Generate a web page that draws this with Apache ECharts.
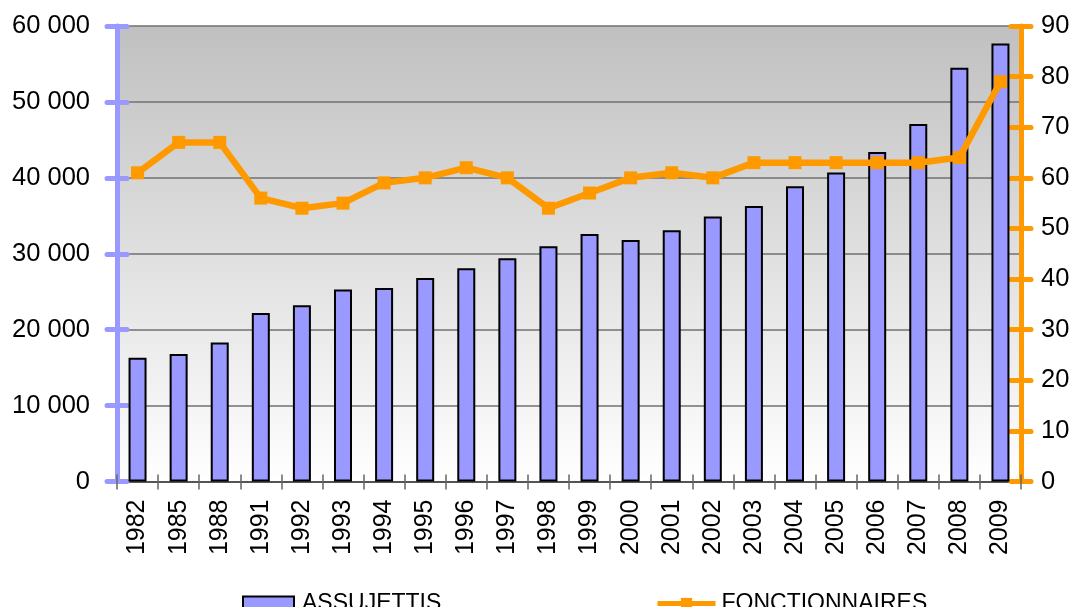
<!DOCTYPE html>
<html>
<head>
<meta charset="utf-8">
<script src="https://cdn.jsdelivr.net/npm/echarts@6/dist/echarts.min.js"></script>
<style>
html,body{margin:0;padding:0;background:#fff;}
#c{width:1074px;height:607px;}
</style>
</head>
<body>
<div id="c"></div>
<script>
var years = ['1982','1985','1988','1991','1992','1993','1994','1995','1996','1997','1998','1999','2000','2001','2002','2003','2004','2005','2006','2007','2008','2009'];
var assujettis = [16300,16800,18300,22200,23200,25300,25500,26800,28100,29400,31000,32600,31800,33100,34900,36300,38900,40700,43400,47100,54500,57700];
var fonctionnaires = [61,67,67,56,54,55,59,60,62,60,54,57,60,61,60,63,63,63,63,63,64,79];
var leftTicks = {min:0, max:60000, interval:10000};
var rightTicks = {min:0, max:90, interval:10};

var FONT = 'Liberation Sans, Arial, sans-serif';
var BLUE = '#9999ff', ORANGE = '#ff9900';

var chart = echarts.init(document.getElementById('c'));
function fmtThousands(v){ if(v===0) return '0'; return (v/1000) + ' 000'; }
var option = {
  animation:false,
  backgroundColor:'#ffffff',
  grid:{left:117, right:53, top:26, bottom:125.5, show:true, borderWidth:0,
    backgroundColor:new echarts.graphic.LinearGradient(0,0,0,1,[{offset:0,color:'#c0c0c0'},{offset:1,color:'#ffffff'}])},
  legend:[
    {data:['ASSUJETTIS'], left:242, top:592, itemWidth:51, itemHeight:14, icon:'rect', padding:0,
     textStyle:{fontFamily:FONT, fontSize:23, color:'#000', lineHeight:14, padding:[0,0,6,3]}},
    {data:['FONCTIONNAIRES'], left:655, top:592, itemWidth:58, itemHeight:14, padding:0,
     lineStyle:{width:5, color:ORANGE},
     textStyle:{fontFamily:FONT, fontSize:23, color:'#000', lineHeight:14, padding:[0,0,6,1]}}
  ],
  xAxis:[
    {type:'category', data:years, boundaryGap:true,
     axisLine:{show:true, lineStyle:{color:'#555', width:2}},
     axisTick:{show:true, length:8, interval:0, lineStyle:{color:'#666', width:1.5}},
     axisLabel:{rotate:90, interval:0, margin:18, fontFamily:FONT, fontSize:25, color:'#000'},
     splitLine:{show:false}},
    {type:'category', data:years, boundaryGap:true, position:'bottom',
     axisLine:{show:false}, axisLabel:{show:false},
     axisTick:{show:true, inside:true, length:7, interval:0, lineStyle:{color:'#666', width:1.5}},
     splitLine:{show:false}}
  ],
  yAxis:[
    {type:'value', position:'left', min:leftTicks.min, max:leftTicks.max, interval:leftTicks.interval,
     axisLine:{show:true, lineStyle:{color:BLUE, width:5}},
     axisTick:{show:true, length:10, lineStyle:{color:BLUE, width:5, cap:'round'}},
     axisLabel:{formatter:fmtThousands, margin:27, fontFamily:FONT, fontSize:25.5, color:'#000'},
     splitLine:{show:true, lineStyle:{color:'#707070', width:1.5}}},
    {type:'value', position:'right', min:rightTicks.min, max:rightTicks.max, interval:rightTicks.interval,
     axisLine:{show:true, lineStyle:{color:ORANGE, width:5}},
     axisTick:{show:true, length:10, lineStyle:{color:ORANGE, width:5, cap:'round'}},
     axisLabel:{margin:20, fontFamily:FONT, fontSize:25.5, color:'#000'},
     splitLine:{show:false}},
    {type:'value', position:'left', min:leftTicks.min, max:leftTicks.max, interval:leftTicks.interval,
     axisLine:{show:false}, axisLabel:{show:false}, splitLine:{show:false},
     axisTick:{show:true, inside:true, length:10, lineStyle:{color:BLUE, width:5, cap:'round'}}},
    {type:'value', position:'right', min:rightTicks.min, max:rightTicks.max, interval:rightTicks.interval,
     axisLine:{show:false}, axisLabel:{show:false}, splitLine:{show:false},
     axisTick:{show:true, inside:true, length:10, lineStyle:{color:ORANGE, width:5, cap:'round'}}}
  ],
  series:[
    {name:'ASSUJETTIS', type:'bar', data:assujettis, xAxisIndex:0, yAxisIndex:0, barWidth:18,
     itemStyle:{color:BLUE, borderColor:'#000', borderWidth:2}},
    {name:'FONCTIONNAIRES', type:'line', data:fonctionnaires, xAxisIndex:0, yAxisIndex:1,
     symbol:'rect', symbolSize:13, lineStyle:{color:ORANGE, width:6.5}, itemStyle:{color:ORANGE}, z:5}
  ]
};
chart.setOption(option);
</script>
</body>
</html>
